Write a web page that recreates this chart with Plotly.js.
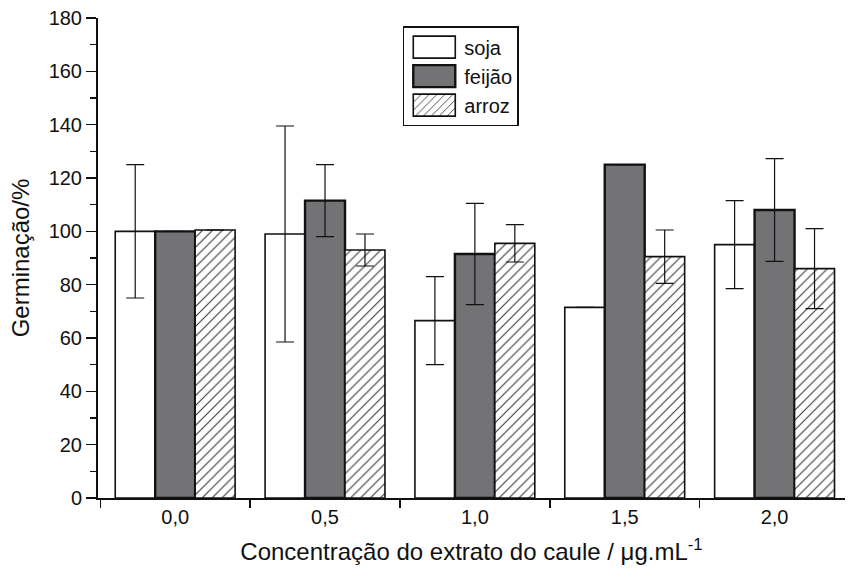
<!DOCTYPE html>
<html>
<head>
<meta charset="utf-8">
<script src="https://cdn.plot.ly/plotly-3.0.1.min.js"></script>
<style>html,body{margin:0;padding:0;background:#fff;}#chart{width:853px;height:578px;}</style>
</head>
<body>
<div id="chart"></div>
<script>
const categories = ["0,0", "0,5", "1,0", "1,5", "2,0"];
const soja = [100, 99, 66.5, 71.5, 95];
const sojaErr = [25, 40.5, 16.5, null, 16.5];
const feijao = [100, 111.5, 91.5, 125, 108];
const feijaoErr = [null, 13.5, 19, null, 19.3];
const arroz = [100.5, 93, 95.5, 90.5, 86];
const arrozErr = [null, 6, 7, 10, 15];
const yTicks = [0, 20, 40, 60, 80, 100, 120, 140, 160, 180];

const errStyle = {type: "data", symmetric: true, color: "#111", thickness: 1.2, width: 9};

const traces = [
  {type: "bar", name: "soja", x: categories, y: soja,
   error_y: Object.assign({array: sojaErr}, errStyle),
   marker: {color: "#ffffff", line: {color: "#111", width: 1.6}}},
  {type: "bar", name: "feijão", x: categories, y: feijao,
   error_y: Object.assign({array: feijaoErr}, errStyle),
   marker: {color: "#737375", line: {color: "#111", width: 2.4}}},
  {type: "bar", name: "arroz", x: categories, y: arroz,
   error_y: Object.assign({array: arrozErr}, errStyle),
   marker: {color: "#ffffff", line: {color: "#111", width: 1.6},
            pattern: {shape: "/", fgcolor: "#333", bgcolor: "#ffffff", size: 7, solidity: 0.15}}}
];

const layout = {
  width: 853, height: 578,
  margin: {l: 98, r: 8, t: 18, b: 80},
  paper_bgcolor: "#fff", plot_bgcolor: "#fff",
  font: {family: "Liberation Sans, Arial, sans-serif", color: "#111", size: 20},
  barmode: "group", bargap: 0.2, bargroupgap: 0,
  showlegend: true,
  legend: {x: 0.408, y: 0.983, xanchor: "left", yanchor: "top",
           bordercolor: "#111", borderwidth: 1.5, bgcolor: "#fff",
           font: {size: 20}, itemwidth: 50, tracegroupgap: 2},
  xaxis: {type: "category", range: [-0.515, 4.47], tickson: "boundaries",
          ticks: "outside", ticklen: 8, tickwidth: 1.5, tickcolor: "#111",
          showline: true, linecolor: "#111", linewidth: 2, showgrid: false, zeroline: false,
          tickfont: {size: 20},
          title: {text: "Concentração do extrato do caule / μg.mL<sup>-1</sup>", font: {size: 24}, standoff: 16}},
  yaxis: {range: [0, 180], tickvals: yTicks, ticktext: yTicks.map(String),
          ticks: "outside", ticklen: 10, tickwidth: 1.5, tickcolor: "#111",
          minor: {dtick: 10, ticks: "outside", ticklen: 6, tickwidth: 1.2, tickcolor: "#111"},
          showline: true, linecolor: "#111", linewidth: 2, showgrid: false, zeroline: false,
          tickfont: {size: 20},
          title: {text: "Germinação/%", font: {size: 24}, standoff: 12}}
};

Plotly.newPlot("chart", traces, layout, {displayModeBar: false, staticPlot: true}).then(function (gd) {
  // enlarge legend swatches to match the reference's wide rectangles
  gd.querySelectorAll(".legend .legendpoints path").forEach(function (p) {
    p.setAttribute("d", "M21,11H-21V-11H21Z");
  });
});
</script>
</body>
</html>
